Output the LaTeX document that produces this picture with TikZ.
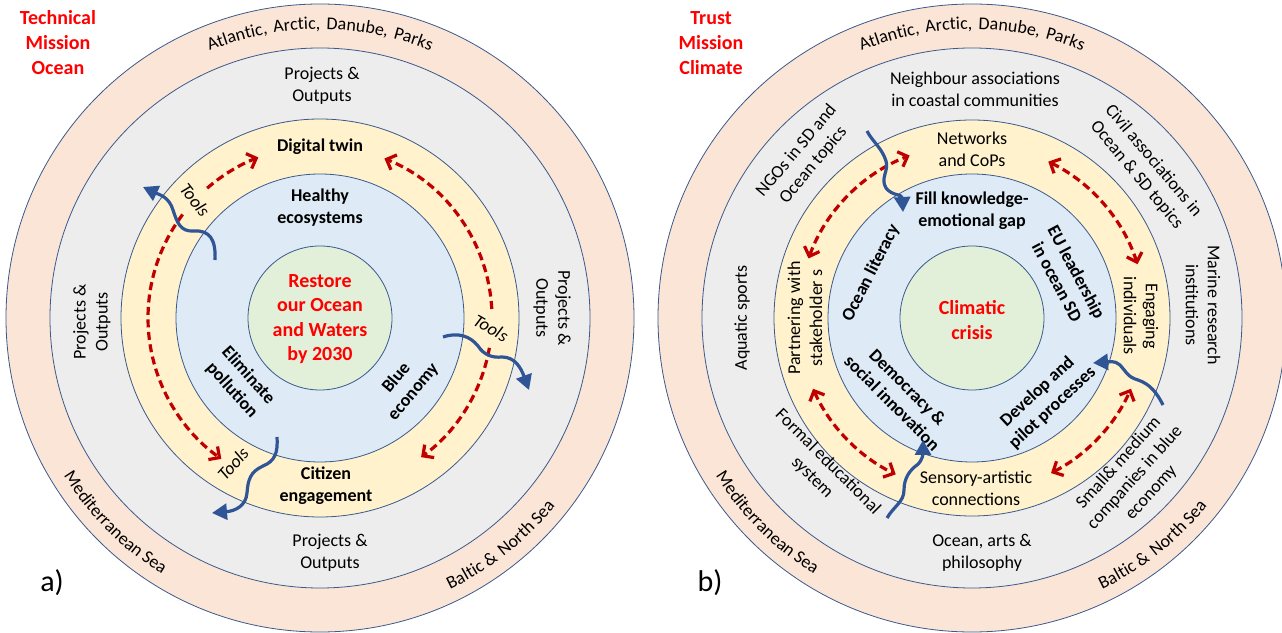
\documentclass[tikz,border=0pt]{standalone}
\usepackage{fontspec}
\setmainfont{Carlito}
\usetikzlibrary{arrows.meta,decorations.text}

\definecolor{ringpink}{HTML}{FBE5D6}
\definecolor{ringgray}{HTML}{EDEDED}
\definecolor{ringyellow}{HTML}{FFF2CC}
\definecolor{ringblue}{HTML}{DEEBF7}
\definecolor{ringgreen}{HTML}{E2F0D9}
\definecolor{ringline}{HTML}{3A5A8C}
\definecolor{titlered}{HTML}{FF0000}
\definecolor{arrowred}{HTML}{C00000}
\definecolor{waveblue}{HTML}{2F5597}

\newcommand\ringfont{\fontsize{18}{22}\selectfont}
\newcommand\midfont{\fontsize{20}{24.5}\selectfont}
\newcommand\toolsfont{\fontsize{18}{21}\selectfont}
\newcommand\gapsp{{\hspace*{6pt}}}

\begin{document}
\begin{tikzpicture}[
x=1pt, y=1pt,
>={Straight Barb[length=8pt,width=16pt]},
ring/.style={draw=ringline, line width=0.8pt},
txt/.style={align=center, inner sep=0pt, font=\ringfont},
btxt/.style={txt, font=\ringfont\bfseries},
redtxt/.style={txt, text=titlered, font=\midfont\bfseries},
titletxt/.style={align=center, inner sep=0pt, text=titlered, font=\fontsize{20}{25}\selectfont\bfseries},
tools/.style={inner sep=0pt, font=\toolsfont\itshape},
panel/.style={inner sep=0pt, font=\fontsize{30}{36}\selectfont},
dasharrow/.style={draw=arrowred, line width=3.2pt, dash pattern=on 8pt off 4.5pt},
wavearrow/.style={draw=waveblue, line width=3.2pt, -{Triangle[length=15pt,width=16pt]}},
arctext/.style={decorate, decoration={text along path, text align=center, text={#1}}}
]
\useasboundingbox[fill=white] (0,0) rectangle (1282,632);

% panel a
\begin{scope}[shift={(320,314)}]
\foreach \r/\c in {314/ringpink,270/ringgray,199/ringyellow,144/ringblue,72/ringgreen}
  \filldraw[ring, fill=\c] (0,0) circle[radius=\r];
\path[arctext={|\ringfont|Atlantic,\gapsp Arctic,\gapsp Danube,\gapsp Parks}] (140:289) arc[start angle=140, end angle=40, radius=289];
\path[arctext={|\ringfont|Mediterranean Sea}] (195:301) arc[start angle=195, end angle=255, radius=301];
\path[arctext={|\ringfont|Baltic {\&}\gapsp North Sea}] (278:301) arc[start angle=278, end angle=339, radius=301];

\node[txt] (apT) at (2,232) {Projects \&\\Outputs};
\node[txt, rotate=90] (apL) at (-228,-4) {Projects \&\\Outputs};
\node[txt, rotate=-90] (apR) at (232,10) {Projects \&\\Outputs};
\node[txt] (apB) at (10,-235) {Projects \&\\Outputs};
\node[btxt] (twin) at (0,171) {Digital twin};
\node[btxt] (citz) at (6,-168) {Citizen\\engagement};
\node[btxt] (hlth) at (0,110) {Healthy\\ecosystems};
\node[btxt, rotate=-48] (elim) at (-80,-65) {Eliminate\\pollution};
\node[btxt, rotate=50] (blec) at (85,-67) {Blue\\economy};
\node[redtxt] (goal) at (0,-1) {Restore\\our Ocean\\and Waters\\by 2030};
\node[tools, rotate=-52] (toolsA) at (-125,118) {Tools};
\node[tools, rotate=-30] (toolsB) at (171,-10) {Tools};
\node[tools, rotate=48] (toolsC) at (-87,-146) {Tools};

% flows in the yellow ring
\draw[dasharrow, ->] (131:172) arc[start angle=131, end angle=111, radius=172];
\draw[dasharrow, ->] (143:172) arc[start angle=143, end angle=235, radius=172];
\draw[dasharrow, ->] (3:172) arc[start angle=3, end angle=68, radius=172];
\draw[dasharrow, ->] (-10:172) arc[start angle=-10, end angle=-54, radius=172];

% tools going out
\draw[wavearrow] (-105,58) .. controls (-104,78) and (-110,88) .. (-126,87)
  .. controls (-140,86) and (-143,96) .. (-147,108)
  .. controls (-151,121) and (-160,123) .. (-177,131);
\draw[wavearrow] (123,-19) .. controls (138,-14) and (150,-18) .. (158,-28)
  .. controls (164,-37) and (172,-40) .. (182,-39)
  .. controls (195,-39) and (201,-50) .. (209,-72);
\draw[wavearrow] (-43,-119) .. controls (-42,-135) and (-45,-143) .. (-57,-148)
  .. controls (-70,-154) and (-72,-162) .. (-73,-175)
  .. controls (-74,-188) and (-85,-193) .. (-108,-195);
\end{scope}

% panel b
\begin{scope}[shift={(972,314)}]
\foreach \r/\c in {314/ringpink,270/ringgray,198/ringyellow,144/ringblue,72/ringgreen}
  \filldraw[ring, fill=\c] (0,0) circle[radius=\r];
\path[arctext={|\ringfont|Atlantic,\gapsp Arctic,\gapsp Danube,\gapsp Parks}] (140:289) arc[start angle=140, end angle=40, radius=289];
\path[arctext={|\ringfont|Mediterranean Sea}] (195:301) arc[start angle=195, end angle=255, radius=301];
\path[arctext={|\ringfont|Baltic {\&}\gapsp North Sea}] (278:301) arc[start angle=278, end angle=339, radius=301];

\node[txt] (nbrs) at (3,229) {Neighbour associations\\in coastal communities};
\node[txt, rotate=50] (ngos) at (-167,160) {NGOs in SD and\\Ocean topics};
\node[txt, rotate=-50] (civl) at (173,150) {Civil associations in\\Ocean \& SD topics};
\node[txt, rotate=90] (aqua) at (-230,0) {Aquatic sports};
\node[txt, rotate=-90] (mrin) at (231,13) {Marine research\\institutions};
\node[txt, rotate=-45] (frml) at (-152,-152) {Formal educational\\system};
\node[txt] (arts) at (10,-235) {Ocean, arts \&\\philosophy};
\node[txt, rotate=48] (smes) at (163,-160) {Small\& medium\\companies in blue\\economy};
\node[txt] (netw) at (0,169) {Networks\\and CoPs};
\node[txt] (sens) at (4,-170) {Sensory-artistic\\connections};
\node[txt, rotate=90] (part) at (-167,0) {Partnering with\\stakeholder s};
\node[txt, rotate=-90] (enga) at (169,2) {Engaging\\individuals};
\node[btxt] (fill) at (0,107) {Fill knowledge-\\emotional gap};
\node[btxt, rotate=63] (olit) at (-101,45) {Ocean literacy};
\node[btxt, rotate=-62] (euld) at (95,41) {EU leadership\\in ocean SD};
\node[btxt, rotate=-45] (demo) at (-72,-77) {Democracy \&\\social innovation};
\node[btxt, rotate=43] (devp) at (73,-82) {Develop and\\pilot processes};
\node[redtxt] (crss) at (0,-2) {Climatic\\crisis};

% exchanges in the yellow ring
\draw[dasharrow, <->] (160:174) arc[start angle=160, end angle=111, radius=174];
\draw[dasharrow, <->] (64:174) arc[start angle=64, end angle=18, radius=174];
\draw[dasharrow, <->] (204:174) arc[start angle=204, end angle=244, radius=174];
\draw[dasharrow, <->] (297:174) arc[start angle=297, end angle=336, radius=174];

% links crossing the rings
\draw[wavearrow] (-105,187) .. controls (-100,177) and (-90,170) .. (-86,157)
  .. controls (-83,147) and (-92,140) .. (-86,130)
  .. controls (-80,122) and (-70,124) .. (-69,106);
\draw[wavearrow] (191,-87) .. controls (185,-75) and (178,-66) .. (166,-62)
  .. controls (155,-59) and (153,-52) .. (148,-47)
  .. controls (143,-42) and (135,-44) .. (121,-45);
\draw[wavearrow] (-85,-200) .. controls (-78,-188) and (-68,-184) .. (-68,-172)
  .. controls (-68,-160) and (-62,-152) .. (-55,-147)
  .. controls (-49,-142) and (-49,-135) .. (-49,-122);
\end{scope}

\node[titletxt] (ttla) at (58,589) {Technical\\Mission\\Ocean};
\node[titletxt] (ttlb) at (711,589) {Trust\\Mission\\Climate};
\node[panel] (lbla) at (52,49) {a)};
\node[panel] (lblb) at (710,49) {b)};
\end{tikzpicture}
\end{document}
